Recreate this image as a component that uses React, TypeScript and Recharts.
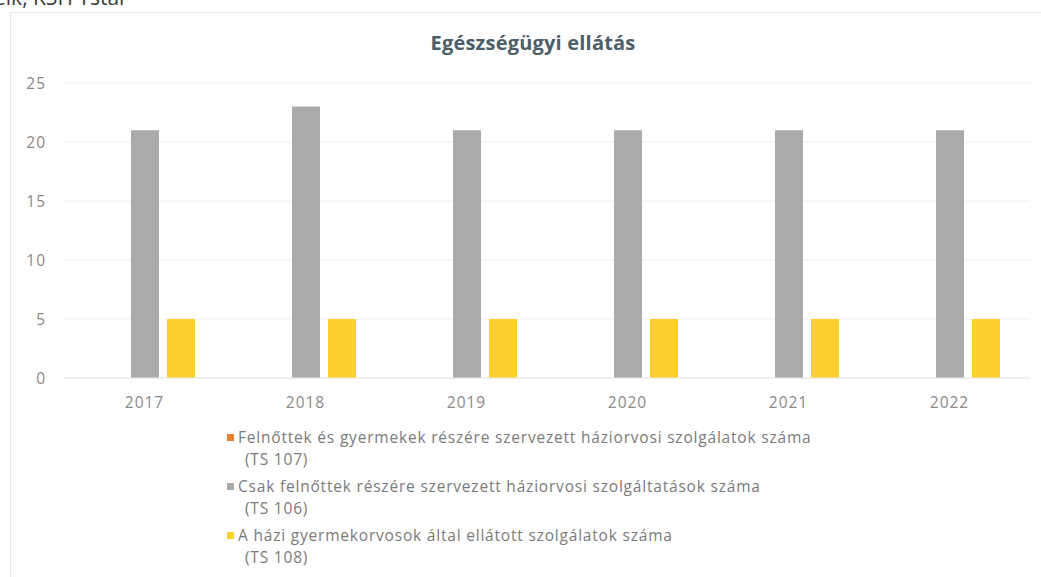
import React from "react";
import { BarChart, Bar, XAxis, YAxis, CartesianGrid, Legend } from "recharts";

const years = ["2017", "2018", "2019", "2020", "2021", "2022"];
const ts107 = [0, 0, 0, 0, 0, 0];
const ts106 = [21, 23, 21, 21, 21, 21];
const ts108 = [5, 5, 5, 5, 5, 5];
const yTicks = [0, 5, 10, 15, 20, 25];

const keys = ["ts107", "ts106", "ts108"];
const names = [
  "Felnőttek és gyermekek részére szervezett háziorvosi szolgálatok száma",
  "Csak felnőttek részére szervezett háziorvosi szolgáltatások száma",
  "A házi gyermekorvosok által ellátott szolgálatok száma",
];
const codes = ["(TS 107)", "(TS 106)", "(TS 108)"];
const COLORS = ["#ED7D31", "#A8ABAA", "#FDCF2F"];

const data = years.map((year, i) => ({
  year,
  ts107: ts107[i],
  ts106: ts106[i],
  ts108: ts108[i],
}));

const FONT = "'Open Sans', sans-serif";

function LegendBox({ payload }: any) {
  const items = [...(payload || [])].sort(
    (a: any, b: any) => keys.indexOf(a.dataKey) - keys.indexOf(b.dataKey)
  );
  return (
    <div style={{ fontFamily: FONT, fontSize: 15.5, color: "#7b7b7b", letterSpacing: 0.8 }}>
      {items.map((entry: any) => {
        const idx = keys.indexOf(entry.dataKey);
        return (
          <div key={`leg-${idx}`} style={{ marginBottom: 5, lineHeight: "22px" }}>
            <div style={{ whiteSpace: "nowrap" }}>
              <span
                style={{
                  display: "inline-block",
                  width: 7,
                  height: 7,
                  background: entry.color,
                  marginRight: 4,
                  verticalAlign: "middle",
                  position: "relative",
                  top: -1,
                }}
              />
              {entry.value}
            </div>
            <div style={{ paddingLeft: 18, whiteSpace: "nowrap" }}>{codes[idx]}</div>
          </div>
        );
      })}
    </div>
  );
}

export default function App() {
  return (
    <div
      style={{
        position: "fixed",
        left: 0,
        top: 0,
        width: 1041,
        height: 577,
        overflow: "hidden",
        background: "#fff",
      }}
    >
      <div
        style={{
          position: "absolute",
          left: -6,
          top: -13,
          fontFamily: FONT,
          fontSize: 21,
          lineHeight: "21px",
          color: "#3a3a3a",
          whiteSpace: "nowrap",
        }}
      >
        elk, KSH Tstar
      </div>
      <div
        style={{
          position: "absolute",
          left: 10,
          top: 12,
          width: 1100,
          height: 620,
          border: "1px solid #e6e6e6",
        }}
      />
      <div
        style={{
          position: "absolute",
          left: 393,
          top: 29,
          width: 280,
          textAlign: "center",
          fontFamily: FONT,
          fontWeight: 700,
          fontSize: 20,
          letterSpacing: 0.2,
          color: "#4b5e69",
          whiteSpace: "nowrap",
        }}
      >
        Egészségügyi ellátás
      </div>
      <div style={{ position: "absolute", left: 0, top: 0 }}>
        <BarChart
          width={1041}
          height={577}
          data={data}
          margin={{ top: 83, right: 11, bottom: 159, left: 24 }}
          barSize={28}
          barGap={8}
        >
          <CartesianGrid vertical={false} stroke="#efefef" />
          <XAxis
            dataKey="year"
            height={40}
            tickLine={false}
            tickSize={0}
            tickMargin={19}
            axisLine={{ stroke: "#e8e8e8" }}
            tick={{ fill: "#8a8a8a", fontSize: 15.5, fontFamily: FONT, letterSpacing: 1 }}
          />
          <YAxis
            width={40}
            domain={[0, 25]}
            ticks={yTicks}
            axisLine={false}
            tickLine={false}
            tickSize={0}
            tickMargin={18}
            tick={{ fill: "#8a8a8a", fontSize: 15.5, fontFamily: FONT, letterSpacing: 1 }}
          />
          <Legend
            layout="vertical"
            align="center"
            verticalAlign="middle"
            wrapperStyle={{ left: 227, top: 426, width: 760 }}
            content={<LegendBox />}
          />
          <Bar dataKey="ts107" name={names[0]} fill={COLORS[0]} isAnimationActive={false} />
          <Bar dataKey="ts106" name={names[1]} fill={COLORS[1]} isAnimationActive={false} />
          <Bar dataKey="ts108" name={names[2]} fill={COLORS[2]} isAnimationActive={false} />
        </BarChart>
      </div>
    </div>
  );
}
